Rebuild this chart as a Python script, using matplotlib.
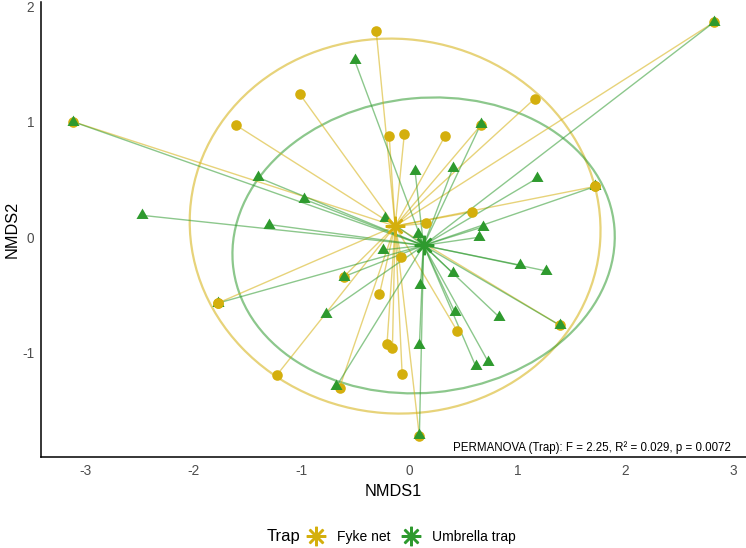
import matplotlib
matplotlib.use("Agg")
import matplotlib.pyplot as plt
from matplotlib.patches import Ellipse
from matplotlib.lines import Line2D

plt.rcParams['font.family'] = ['Liberation Sans', 'DejaVu Sans']

groups = ["Fyke net", "Umbrella trap"]
colors = ["#D4AF0D", "#2E9A2E"]

# Fyke net samples (NMDS1, NMDS2)
fyke_x = [-3.12, -0.31, -1.02, -1.61, -0.19, -0.05, 0.33, 0.66, 1.16, 2.82,
          1.72, 0.58, 0.15, -0.08, -0.28, -0.61, -0.21, -0.16, -0.07, -1.23,
          -0.65, 0.44, 0.09, -1.78, 1.39]
fyke_y = [1.00, 1.78, 1.24, 0.97, 0.88, 0.89, 0.88, 0.97, 1.20, 1.86,
          0.44, 0.22, 0.12, -0.17, -0.49, -0.34, -0.92, -0.96, -1.18, -1.19,
          -1.30, -0.81, -1.72, -0.57, -0.76]
fyke_on_top = [10, 23]

# Umbrella trap samples
umb_x = [-3.12, 2.82, -0.51, -2.48, -1.41, -0.98, -1.30, -0.23, 0.05, 0.40,
         0.66, 1.18, 0.68, 0.64, 0.08, -0.25, 1.72, -0.61, 0.40, 0.10,
         -0.78, 0.42, 0.83, 0.09, 0.61, 0.73, -0.68, 0.09, 1.02, 1.26,
         1.39, -1.78]
umb_y = [1.00, 1.86, 1.53, 0.19, 0.52, 0.33, 0.11, 0.17, 0.57, 0.60,
         0.98, 0.51, 0.09, 0.00, 0.03, -0.11, 0.44, -0.34, -0.31, -0.41,
         -0.66, -0.65, -0.69, -0.93, -1.11, -1.08, -1.29, -1.71, -0.24, -0.29,
         -0.76, -0.57]

centroid_x = [-0.135, 0.129]
centroid_y = [0.097, -0.070]

ell_width = [3.81, 3.55]
ell_height = [3.24, 2.55]
ell_angle = [-4, 5]

annot = "PERMANOVA (Trap): F = 2.25, R\u00b2 = 0.029, p = 0.0072"

fig = plt.figure(figsize=(7.46, 5.48), dpi=100)
ax = fig.add_axes([41/746, 1 - 457/548, 705/746, 455/548])

tri = [(0, 1), (-0.866, -0.5), (0.866, -0.5)]
star = (8, 2, 0)

pts = [(fyke_x, fyke_y), (umb_x, umb_y)]
for g in range(2):
    e = Ellipse((centroid_x[g], centroid_y[g]), ell_width[g], ell_height[g],
                angle=ell_angle[g], fill=False, edgecolor=colors[g],
                alpha=0.55, lw=1.6, zorder=1)
    ax.add_patch(e)

for g in range(2):
    xs, ys = pts[g]
    for x, y in zip(xs, ys):
        ax.plot([centroid_x[g], x], [centroid_y[g], y], color=colors[g],
                alpha=0.55, lw=1.0, zorder=2, solid_capstyle='butt')

ax.scatter(fyke_x, fyke_y, s=58, marker='o', color=colors[0], zorder=3,
           linewidths=0)
ax.scatter(umb_x, umb_y, s=100, marker=tri, color=colors[1], zorder=4,
           linewidths=0)
ax.scatter([fyke_x[i] for i in fyke_on_top], [fyke_y[i] for i in fyke_on_top],
           s=58, marker='o', color=colors[0], zorder=5, linewidths=0)

for g in range(2):
    ax.plot([centroid_x[g]], [centroid_y[g]], marker=star, ms=14,
            mew=1.8, color=colors[g], zorder=6, linestyle='none')

ax.text(2.98, -1.82, annot, ha='right', va='center', fontsize=8.3,
        color='black')

ax.set_xlim(-3.417, 3.117)
ax.set_ylim(-1.90, 2.035)
ax.set_xticks([-3, -2, -1, 0, 1, 2, 3])
ax.set_yticks([-1, 0, 1, 2])
ax.set_xticklabels(["-3", "-2", "-1", "0", "1", "2", "3"])
ax.set_yticklabels(["-1", "0", "1", "2"])
ax.tick_params(length=0, labelsize=9.8, colors='#4D4D4D', pad=5)
for s in ['top', 'right']:
    ax.spines[s].set_visible(False)
for s in ['left', 'bottom']:
    ax.spines[s].set_linewidth(1.1)
    ax.spines[s].set_color('black')
ax.set_xlabel("NMDS1", fontsize=11.7, labelpad=4)
ax.set_ylabel("NMDS2", fontsize=11.7, labelpad=2)

fig.text(267/746, 1 - 537/548, "Trap", fontsize=12, ha='left', va='center')
handles = [Line2D([], [], marker=star, ms=14, mew=1.8, color=colors[g],
                  linestyle='none') for g in range(2)]
fig.legend(handles, groups, loc='center left',
           bbox_to_anchor=(308/746, 1 - 537/548), ncol=2, frameon=False,
           fontsize=10, handlelength=1.2, handletextpad=0.9,
           columnspacing=0.9, borderpad=0, borderaxespad=0)

fig.savefig("out.png", dpi=100)
